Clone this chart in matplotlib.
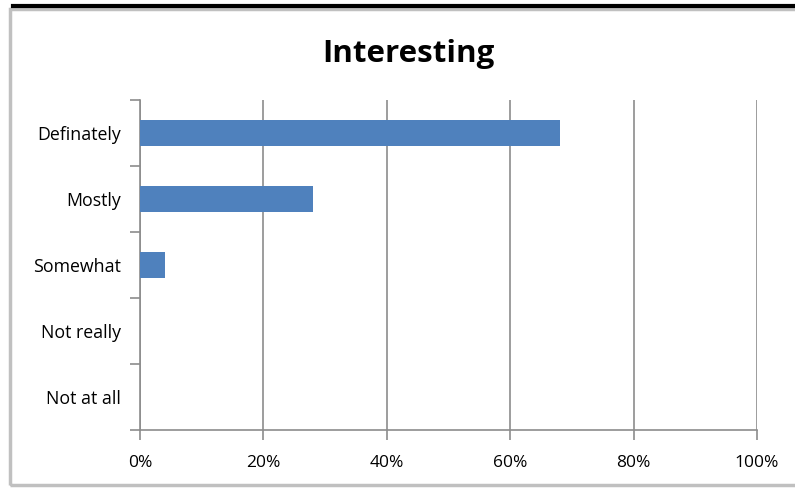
import matplotlib
matplotlib.use("Agg")
import matplotlib.pyplot as plt
from matplotlib.patches import Rectangle
from matplotlib.lines import Line2D
from matplotlib.ticker import PercentFormatter

categories = ["Definately", "Mostly", "Somewhat", "Not really", "Not at all"]
values = [68, 28, 4, 0, 0]
x_ticks = [0, 20, 40, 60, 80, 100]

BAR = "#4F81BD"
GRID = "#8C8C8C"

plt.rcParams['font.family'] = ['Open Sans', 'DejaVu Sans']

fig = plt.figure(figsize=(7.95, 4.88), dpi=100)
W, H = 795, 488

# outer chart frame + dark strip on top
fig.patches.append(Rectangle((10 / W, 1 - 485 / H), 800 / W, 476 / H, transform=fig.transFigure,
                             fill=False, edgecolor="#C0C0C0", linewidth=2.5))
fig.lines.append(Line2D([13 / W, 1], [1 - 5.5 / H, 1 - 5.5 / H], transform=fig.transFigure,
                        color="black", linewidth=3))

ax = fig.add_axes([140 / W, 1 - 430 / H, (757 - 140) / W, (430 - 100) / H])
y = list(range(len(categories)))
ax.barh(y, values, height=0.4, color=BAR, zorder=3)
ax.set_ylim(len(categories) - 0.5, -0.5)
ax.set_xlim(0, 100)

ax.set_xticks(x_ticks)
ax.xaxis.set_major_formatter(PercentFormatter(decimals=0))
ax.set_yticks(y)
ax.set_yticklabels(categories)
ax.set_yticks([i - 0.5 for i in range(len(categories) + 1)], minor=True)
ax.tick_params(axis='y', which='major', length=0, pad=14, labelsize=12.8)
ax.tick_params(axis='y', which='minor', length=7, width=1.2, color=GRID)
ax.tick_params(axis='x', length=7, width=1.2, color=GRID, pad=11, labelsize=12.5)

ax.xaxis.grid(True, color=GRID, linewidth=1.2, zorder=0)
ax.set_axisbelow(True)
for sp in ("top", "right"):
    ax.spines[sp].set_visible(False)
for sp in ("left", "bottom"):
    ax.spines[sp].set_color(GRID)
    ax.spines[sp].set_linewidth(1.2)

fig.text(408 / W, 1 - 54 / H, "Interesting", ha="center", va="center",
         fontsize=22.5, fontweight="bold")

fig.savefig("out.png", dpi=100)
